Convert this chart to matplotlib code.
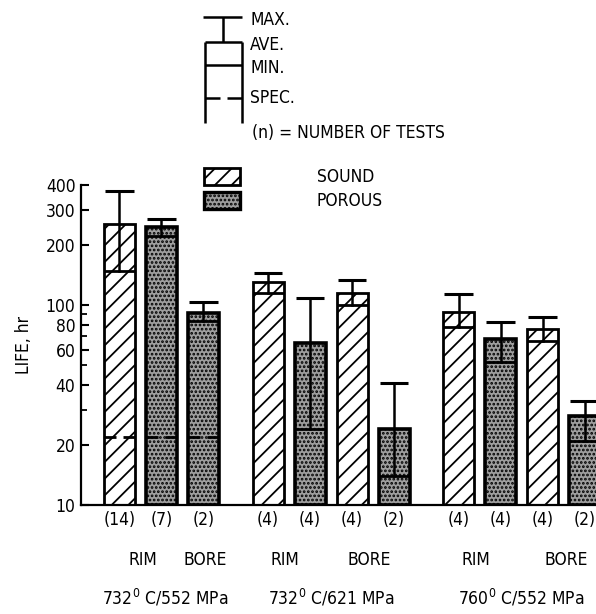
import matplotlib
matplotlib.use("Agg")
import matplotlib.pyplot as plt
from matplotlib import font_manager as fm
from matplotlib.transforms import blended_transform_factory
from matplotlib.lines import Line2D
from matplotlib.patches import Rectangle

# ---------------- data ----------------
groups = ["732$^{0}$ C/552 MPa", "732$^{0}$ C/621 MPa", "760$^{0}$ C/552 MPa"]
group_sizes = [3, 4, 4]
test_counts = ["(14)", "(7)", "(2)", "(4)", "(4)", "(4)", "(2)", "(4)", "(4)", "(4)", "(2)"]
material = ["SOUND", "POROUS", "POROUS", "SOUND", "POROUS", "SOUND", "POROUS",
            "SOUND", "POROUS", "SOUND", "POROUS"]
life_ave = [255, 247, 91, 131, 65, 115, 24, 92, 68, 76, 28]
life_max = [373, 270, 104, 145, 109, 134, 41, 114, 82, 87, 33]
life_min = [149, 222, 83, 115, 24, 100, 14, 78, 52, 66, 21]
life_spec = [22, 22, 22, None, None, None, None, None, None, None, None]
location_labels = ["RIM", "BORE", "RIM", "BORE", "RIM", "BORE"]
location_pos = [0.55, 2.05, 3.95, 5.95, 8.5, 10.65]
ytick_vals = [10, 20, 40, 60, 80, 100, 200, 300, 400]
yminor_vals = [30, 50, 70, 90]

# ---------------- style ----------------
cond = [f for f in fm.fontManager.ttflist if "Condensed" in f.fname or "Narrow" in f.fname]
if any(f.name == "Liberation Sans Narrow" for f in cond):
    FAM = "Liberation Sans Narrow"
    STRETCH = "normal"
else:
    FAM = "DejaVu Sans"
    STRETCH = "condensed"
plt.rcParams["font.family"] = [FAM, "DejaVu Sans"]
plt.rcParams["font.stretch"] = STRETCH
plt.rcParams["mathtext.fontset"] = "custom"
plt.rcParams["mathtext.rm"] = FAM
plt.rcParams["hatch.linewidth"] = 1.3

W, H = 596, 614
fig = plt.figure(figsize=(W / 100, H / 100), dpi=100)
ax = fig.add_axes([81 / W, 109 / H, 1 - 81 / W, 320 / H])

positions = []
start = 0.0
for gi, n in enumerate(group_sizes):
    positions += [start + i for i in range(n)]
    start += n - 1 + 1.54
bw = 0.74

for x, kind, a, mx, mn, sp in zip(positions, material, life_ave, life_max, life_min, life_spec):
    if kind == "SOUND":
        ax.bar(x, a - 10, bottom=10, width=bw, facecolor="white", edgecolor="black",
               hatch="//", linewidth=2.0, zorder=2)
    else:
        ax.bar(x, a - 10, bottom=10, width=bw, facecolor="0.62", edgecolor="black",
               hatch="....", linewidth=2.6, zorder=2)
    ax.plot([x - bw / 2, x + bw / 2], [mn, mn], color="black", lw=2.0, zorder=3,
            solid_capstyle="butt")
    ax.plot([x, x], [mn, mx], color="black", lw=1.8, zorder=3)
    ax.plot([x - 0.34, x + 0.34], [mx, mx], color="black", lw=2.2, zorder=3,
            solid_capstyle="butt")
    if sp is not None:
        ax.plot([x - bw / 2, x - 0.08], [sp, sp], color="black", lw=2.0, zorder=3,
                solid_capstyle="butt")
        ax.plot([x + 0.08, x + bw / 2], [sp, sp], color="black", lw=2.0, zorder=3,
                solid_capstyle="butt")

ax.set_yscale("log")
ax.set_ylim(10, 400)
ax.set_xlim(-0.917, 11.35)
ax.set_yticks(ytick_vals)
ax.set_yticklabels([str(v) for v in ytick_vals], fontsize=12.5)
ax.set_yticks(yminor_vals, minor=True)
ax.yaxis.set_minor_formatter(plt.NullFormatter())
ax.tick_params(axis="y", which="major", direction="in", length=6, width=1.5, pad=4)
ax.tick_params(axis="y", which="minor", direction="in", length=4, width=1.3)
ax.set_xticks([])
for s in ["top", "right"]:
    ax.spines[s].set_visible(False)
ax.spines["left"].set_linewidth(1.6)
ax.spines["bottom"].set_linewidth(1.6)
ax.set_ylabel("LIFE, hr", fontsize=12.5, labelpad=9)

tr = blended_transform_factory(ax.transData, fig.transFigure)
for x, t in zip(positions, test_counts):
    ax.text(x, 1 - 520 / H, t, transform=tr, ha="center", va="center", fontsize=12.5)
for x, t in zip(location_pos, location_labels):
    ax.text(x, 1 - 560 / H, t, transform=tr, ha="center", va="center", fontsize=12.5)
group_centers = []
idx = 0
for n in group_sizes:
    group_centers.append(sum(positions[idx:idx + n]) / n)
    idx += n
group_centers[0] = 1.1
for x, t in zip(group_centers, groups):
    ax.text(x, 1 - 598 / H, t, transform=tr, ha="center", va="center", fontsize=12.5)

# ---------------- legend (figure pixel coords) ----------------
def fx(px):
    return px / W

def fy(py):
    return 1 - py / H

lw = 1.8
legend_lines = [
    ([203, 242], [17, 17]),
    ([223, 223], [17, 42]),
    ([205, 242], [42, 42]),
    ([205, 205], [42, 123]),
    ([242, 242], [42, 123]),
    ([205, 242], [65, 65]),
    ([205, 220], [98, 98]),
    ([227, 242], [98, 98]),
]
for xs, ys in legend_lines:
    fig.add_artist(Line2D([fx(v) for v in xs], [fy(v) for v in ys], color="black",
                          lw=lw, solid_capstyle="butt"))
for t, py in [("MAX.", 20), ("AVE.", 45), ("MIN.", 68), ("SPEC.", 98)]:
    fig.text(fx(250), fy(py), t, ha="left", va="center", fontsize=12.5)
fig.text(fx(252), fy(133), "(n) = NUMBER OF TESTS", ha="left", va="center", fontsize=12.5)

fig.add_artist(Rectangle((fx(204), fy(185)), fx(36), 17 / H, transform=fig.transFigure,
                         facecolor="white", edgecolor="black", hatch="//", lw=2))
fig.add_artist(Rectangle((fx(204), fy(209)), fx(36), 17 / H, transform=fig.transFigure,
                         facecolor="0.62", edgecolor="black", hatch="....", lw=2.4))
fig.text(fx(317), fy(177), "SOUND", ha="left", va="center", fontsize=12.5)
fig.text(fx(317), fy(201), "POROUS", ha="left", va="center", fontsize=12.5)

fig.savefig("out.png", dpi=100)
